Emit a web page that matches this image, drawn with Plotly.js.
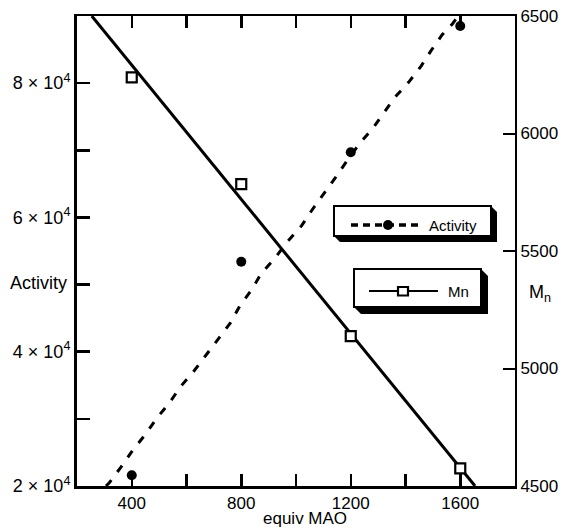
<!DOCTYPE html>
<html>
<head>
<meta charset="utf-8">
<script src="https://cdn.plot.ly/plotly-3.0.1.min.js"></script>
<style>html,body{margin:0;padding:0;background:#fff;}#chart{width:565px;height:530px;}</style>
</head>
<body>
<div id="chart"></div>
<script>
// ---- data ----
const mao = [400, 800, 1200, 1600];
const activity = [21600, 53400, 69700, 88500];
const mn = [6239, 5785, 5138, 4575];
const activityCurveX = [306, 318, 360, 404, 448, 491, 536, 580, 628, 673, 716, 759, 795, 837, 873, 922, 968, 1020, 1058, 1101, 1144, 1186, 1232, 1278, 1319, 1362, 1412, 1457, 1494, 1534, 1572, 1589];
const activityCurveY = [20000, 20490, 22780, 25360, 27590, 30070, 32310, 34880, 37160, 39600, 41880, 44210, 46830, 49170, 51650, 53880, 56350, 58740, 61070, 63450, 65940, 68410, 71000, 73130, 75460, 77930, 80160, 82540, 84880, 87220, 88850, 89800];
const mnFitX = [254, 1654];
const mnFitY = [6500, 4500];
const xTickVals = [400, 800, 1200, 1600];
const xMinorVals = [600, 1000, 1400];
const yTickVals = [20000, 40000, 60000, 80000];
const yTickText = ['2 × 10<sup>4</sup>', '4 × 10<sup>4</sup>', '6 × 10<sup>4</sup>', '8 × 10<sup>4</sup>'];
const yMinorVals = [30000, 50000, 70000];
const y2TickVals = [4500, 5000, 5500, 6000, 6500];

// ---- layout helpers (pixel -> paper) ----
const ML = 77, MR = 50, MT = 16, MB = 44, W = 565, H = 530;
const PW = W - ML - MR, PH = H - MT - MB;
const PX = p => (p - ML) / PW;
const PY = p => (H - MB - p) / PH;
const FONT = 'Liberation Sans, Arial, Helvetica, sans-serif';

function boxShapes(l, t, r, b, s) {
  return [
    {type: 'path', xref: 'paper', yref: 'paper',
     path: `M ${PX(r)},${PY(t)} L ${PX(r + s)},${PY(t + s)} L ${PX(r + s)},${PY(b + s)} L ${PX(l + s)},${PY(b + s)} L ${PX(l)},${PY(b)} L ${PX(r)},${PY(b)} Z`,
     fillcolor: 'black', line: {width: 0}},
    {type: 'rect', xref: 'paper', yref: 'paper', x0: PX(l), x1: PX(r), y0: PY(b), y1: PY(t),
     fillcolor: 'white', line: {color: 'black', width: 2}}
  ];
}

const traces = [
  {x: activityCurveX, y: activityCurveY, mode: 'lines', yaxis: 'y',
   line: {color: 'black', width: 3, dash: '8px,10px'}, hoverinfo: 'skip'},
  {x: mao, y: activity, mode: 'markers', yaxis: 'y',
   marker: {symbol: 'circle', size: 10, color: 'black'}},
  {x: mnFitX, y: mnFitY, mode: 'lines', yaxis: 'y2',
   line: {color: 'black', width: 3}, hoverinfo: 'skip'},
  {x: mao, y: mn, mode: 'markers', yaxis: 'y2',
   marker: {symbol: 'square', size: 10, color: 'white', line: {color: 'black', width: 2.2}}}
];

const shapes = [].concat(
  boxShapes(334, 206, 491, 236, 6),
  [
    {type: 'line', xref: 'paper', yref: 'paper', x0: PX(351), x1: PX(421), y0: PY(225), y1: PY(225),
     line: {color: 'black', width: 3.5, dash: '7px,5px'}},
    {type: 'circle', xref: 'paper', yref: 'paper', x0: PX(383), x1: PX(393), y0: PY(230), y1: PY(220),
     fillcolor: 'black', line: {color: 'black', width: 0}}
  ],
  boxShapes(354, 269, 481, 307, 7),
  [
    {type: 'line', xref: 'paper', yref: 'paper', x0: PX(369), x1: PX(438), y0: PY(291), y1: PY(291),
     line: {color: 'black', width: 2}},
    {type: 'rect', xref: 'paper', yref: 'paper', x0: PX(398), x1: PX(408), y0: PY(295.5), y1: PY(287),
     fillcolor: 'white', line: {color: 'black', width: 2.2}}
  ]
);

const annotations = [
  {text: 'Activity', xref: 'paper', yref: 'paper', x: PX(427), y: PY(225), xanchor: 'left', yanchor: 'middle',
   showarrow: false, font: {family: FONT, size: 15, color: 'black'}},
  {text: 'Mn', xref: 'paper', yref: 'paper', x: PX(446), y: PY(291), xanchor: 'left', yanchor: 'middle',
   showarrow: false, font: {family: FONT, size: 15, color: 'black'}},
  {text: 'Activity', xref: 'paper', yref: 'paper', x: PX(38), y: PY(283), xanchor: 'center', yanchor: 'middle',
   showarrow: false, font: {family: FONT, size: 18, color: 'black'}},
  {text: 'M<sub>n</sub>', xref: 'paper', yref: 'paper', x: PX(540), y: PY(293), xanchor: 'center', yanchor: 'middle',
   showarrow: false, font: {family: FONT, size: 18, color: 'black'}},
  {text: 'equiv MAO', xref: 'paper', yref: 'paper', x: PX(305), y: PY(518), xanchor: 'center', yanchor: 'middle',
   showarrow: false, font: {family: FONT, size: 17, color: 'black'}}
];

const layout = {
  width: W, height: H,
  margin: {l: ML, r: MR, t: MT, b: MB, pad: 0},
  paper_bgcolor: 'white', plot_bgcolor: 'white',
  showlegend: false,
  font: {family: FONT, size: 17, color: 'black'},
  xaxis: {
    range: [200, 1800], tickmode: 'array', tickvals: xTickVals,
    ticks: 'inside', ticklen: 12, tickwidth: 2.5, tickcolor: 'black',
    showline: true, linewidth: 2.5, linecolor: 'black', mirror: 'ticks',
    showgrid: false, zeroline: false,
    minor: {tickmode: 'array', tickvals: xMinorVals, ticks: 'inside', ticklen: 12, tickwidth: 2.5, tickcolor: 'black', showgrid: false},
    tickfont: {family: FONT, size: 17, color: 'black'}
  },
  yaxis: {
    range: [20000, 90000], tickmode: 'array', tickvals: yTickVals, ticktext: yTickText,
    ticks: 'inside', ticklen: 13, tickwidth: 2.5, tickcolor: 'black',
    showline: true, linewidth: 3, linecolor: 'black',
    showgrid: false, zeroline: false,
    minor: {tickmode: 'array', tickvals: yMinorVals, ticks: 'inside', ticklen: 13, tickwidth: 2.5, tickcolor: 'black', showgrid: false},
    tickfont: {family: FONT, size: 18, color: 'black'}
  },
  yaxis2: {
    overlaying: 'y', side: 'right',
    range: [4500, 6500], tickmode: 'array', tickvals: y2TickVals,
    ticks: 'inside', ticklen: 12, tickwidth: 2, tickcolor: 'black',
    showline: true, linewidth: 2, linecolor: 'black',
    showgrid: false, zeroline: false,
    tickfont: {family: FONT, size: 17, color: 'black'}
  },
  shapes: shapes,
  annotations: annotations
};

Plotly.newPlot('chart', traces, layout, {staticPlot: true, displayModeBar: false});
</script>
</body>
</html>
